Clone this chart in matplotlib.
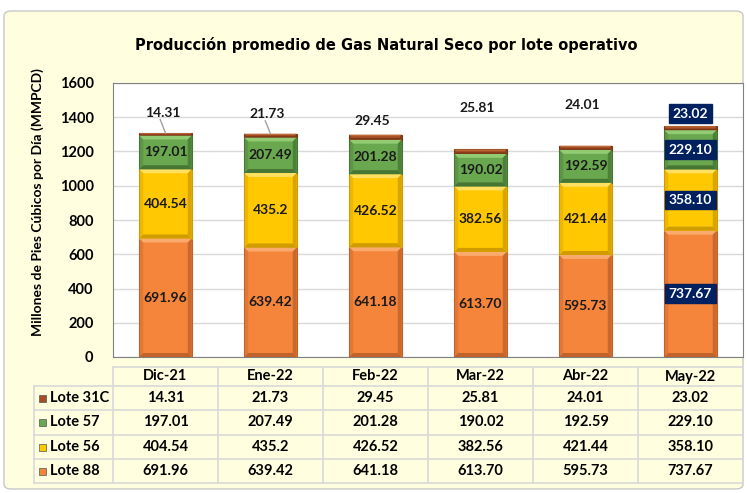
import matplotlib.pyplot as plt
from matplotlib.patches import FancyBboxPatch, Rectangle, Polygon
from matplotlib.lines import Line2D

meses = ["Dic-21", "Ene-22", "Feb-22", "Mar-22", "Abr-22", "May-22"]
lote88 = [691.96, 639.42, 641.18, 613.70, 595.73, 737.67]
lote56 = [404.54, 435.2, 426.52, 382.56, 421.44, 358.10]
lote57 = [197.01, 207.49, 201.28, 190.02, 192.59, 229.10]
lote31c = [14.31, 21.73, 29.45, 25.81, 24.01, 23.02]
txt88 = ["691.96", "639.42", "641.18", "613.70", "595.73", "737.67"]
txt56 = ["404.54", "435.2", "426.52", "382.56", "421.44", "358.10"]
txt57 = ["197.01", "207.49", "201.28", "190.02", "192.59", "229.10"]
txt31c = ["14.31", "21.73", "29.45", "25.81", "24.01", "23.02"]

W, H = 747, 493
fig = plt.figure(figsize=(W / 100, H / 100), dpi=100)
fig.patch.set_facecolor("white")
bgc = "#FFFFE0"
fig.add_artist(FancyBboxPatch((4 / W, 4 / H), 739 / W, 478 / H,
                              boxstyle="round,pad=0,rounding_size=0.01",
                              transform=fig.transFigure, fc=bgc, ec="#C8C8C8", lw=1,
                              zorder=-5))

ax = fig.add_axes([113 / W, 1 - 357 / H, 630 / W, 274 / H])
ax.set_facecolor("white")
ax.set_ylim(0, 1600)
ax.set_xlim(-0.5, 5.5)
ax.set_yticks(range(0, 1601, 200))
ax.set_xticks([])
ax.yaxis.grid(True, color="#D9D9D9", lw=1)
ax.set_axisbelow(True)
for s in ax.spines.values():
    s.set_color("#808080")
for t in ax.get_yticklabels():
    t.set_fontweight("bold")
    t.set_fontsize(10.5)
    t.set_family("Lato")
ax.tick_params(axis="y", length=0, pad=14)
ax.set_ylabel("Millones de Pies Cúbicos por Día (MMPCD)", fontsize=10,
              fontweight="bold", family="Lato")
ax.yaxis.set_label_coords(-0.11, 0.565)

lab_font = "Lato"
# main colour, highlight, shade
series = [(lote88, txt88, "#F5853A", "#F9AA6C", "#C0622A"),
          (lote56, txt56, "#FFC800", "#FFE060", "#D09C00"),
          (lote57, txt57, "#6AA84F", "#92CC72", "#467633"),
          (lote31c, txt31c, "#A34E23", "#C06A3A", "#7A3515")]
dx = 4 / 105
dy = 4 * 1600 / 274
x = list(range(len(meses)))
bottom = [0.0] * len(meses)
for k, (vals, txts, col, hi, sh) in enumerate(series):
    bars = ax.bar(x, vals, width=0.5, bottom=bottom, color=col, edgecolor=sh, lw=0.8, zorder=3)
    for b in bars:
        x0, y0 = b.get_x(), b.get_y()
        x1, y1 = x0 + b.get_width(), y0 + b.get_height()
        ey = min(dy, b.get_height() / 3)
        ex = dx * ey / dy
        ax.add_patch(Polygon([(x0, y1), (x1, y1), (x1 - ex, y1 - ey), (x0 + ex, y1 - ey)],
                             closed=True, fc=hi, ec="none", zorder=3.5))
        ax.add_patch(Polygon([(x0, y0), (x1, y0), (x1 - ex, y0 + ey), (x0 + ex, y0 + ey)],
                             closed=True, fc=sh, ec="none", zorder=3.5))
        ax.add_patch(Polygon([(x1, y0), (x1, y1), (x1 - ex, y1 - ey), (x1 - ex, y0 + ey)],
                             closed=True, fc=sh, ec="none", zorder=3.5, alpha=0.8))
        ax.add_patch(Polygon([(x0, y0), (x0, y1), (x0 + ex, y1 - ey), (x0 + ex, y0 + ey)],
                             closed=True, fc=sh, ec="none", zorder=3.5, alpha=0.35))
    for i in x:
        yc = bottom[i] + vals[i] / 2
        if k < 3:
            if i == 5:
                ax.text(i, yc, txts[i], ha="center", va="center", fontsize=10,
                        fontweight="bold", color="white", family=lab_font, zorder=5,
                        bbox=dict(boxstyle="square,pad=0.25", fc="#002060", ec="#002060"))
            else:
                ax.text(i, yc, txts[i], ha="center", va="center", fontsize=10,
                        fontweight="bold", color="#1A1A1A", family=lab_font, zorder=5)
    bottom = [b + v for b, v in zip(bottom, vals)]

# Lote 31C labels above the bars
off31 = [118, 115, 80, 242, 238, 72]
for i in x:
    ty = bottom[i] + off31[i]
    if i == 5:
        ax.text(i, ty, txt31c[i], ha="center", va="center", fontsize=10,
                fontweight="bold", color="white", family=lab_font, zorder=5,
                bbox=dict(boxstyle="square,pad=0.25", fc="#002060", ec="#002060"))
    else:
        ax.text(i - 0.03, ty, txt31c[i], ha="center", va="center", fontsize=10,
                fontweight="bold", color="#1A1A1A", family=lab_font, zorder=5)
        if 90 < off31[i] < 200:
            ax.plot([i - 0.05, i], [ty - 40, bottom[i]], color="#A0A0A0", lw=1, zorder=4)

fig.text(386 / W, 1 - 45 / H, "Producción promedio de Gas Natural Seco por lote operativo",
         ha="center", va="center", fontsize=10.5, fontweight="bold")

# data table
rows_y = [367, 386, 410, 435, 459, 483]
col_x = [113 + 105 * k for k in range(7)]
gc = "#D9D9D9"
ft = fig.transFigure
def fx(px):
    return px / W
def fy(py):
    return 1 - py / H
fig.add_artist(Line2D([fx(113), fx(743)], [fy(rows_y[0])] * 2, color=gc, lw=1.2, transform=ft))
for yy in rows_y[1:]:
    fig.add_artist(Line2D([fx(34), fx(743)], [fy(yy)] * 2, color=gc, lw=1.2, transform=ft))
fig.add_artist(Line2D([fx(34), fx(34)], [fy(rows_y[1]), fy(rows_y[-1])], color=gc, lw=1.2, transform=ft))
for cx in col_x:
    fig.add_artist(Line2D([fx(cx), fx(cx)], [fy(rows_y[0]), fy(rows_y[-1])], color=gc, lw=1.2, transform=ft))

tab_font = "Lato"
for j, m in enumerate(meses):
    fig.text(fx(col_x[j] + 52.5), fy((rows_y[0] + rows_y[1]) / 2), m, ha="center",
             va="center", fontsize=10.5, fontweight="bold", family=tab_font)
names = ["Lote 31C", "Lote 57", "Lote 56", "Lote 88"]
row_series = [(txt31c, "#A34E23"), (txt57, "#6AA84F"), (txt56, "#FFC800"), (txt88, "#F5853A")]
for r, (name, (txts, col)) in enumerate(zip(names, row_series)):
    yc = (rows_y[r + 1] + rows_y[r + 2]) / 2
    fig.add_artist(Rectangle((fx(39), fy(yc + 3.5)), 7 / W, 7 / H, transform=ft,
                             fc=col, ec="#555555", lw=0.5))
    fig.text(fx(50), fy(yc), name, ha="left", va="center", fontsize=10.5,
             fontweight="bold", family=tab_font)
    for j in range(len(meses)):
        fig.text(fx(col_x[j] + 52.5), fy(yc), txts[j], ha="center", va="center",
                 fontsize=10.5, fontweight="bold", family=tab_font)

fig.savefig("out.png", dpi=100, facecolor=fig.get_facecolor())
